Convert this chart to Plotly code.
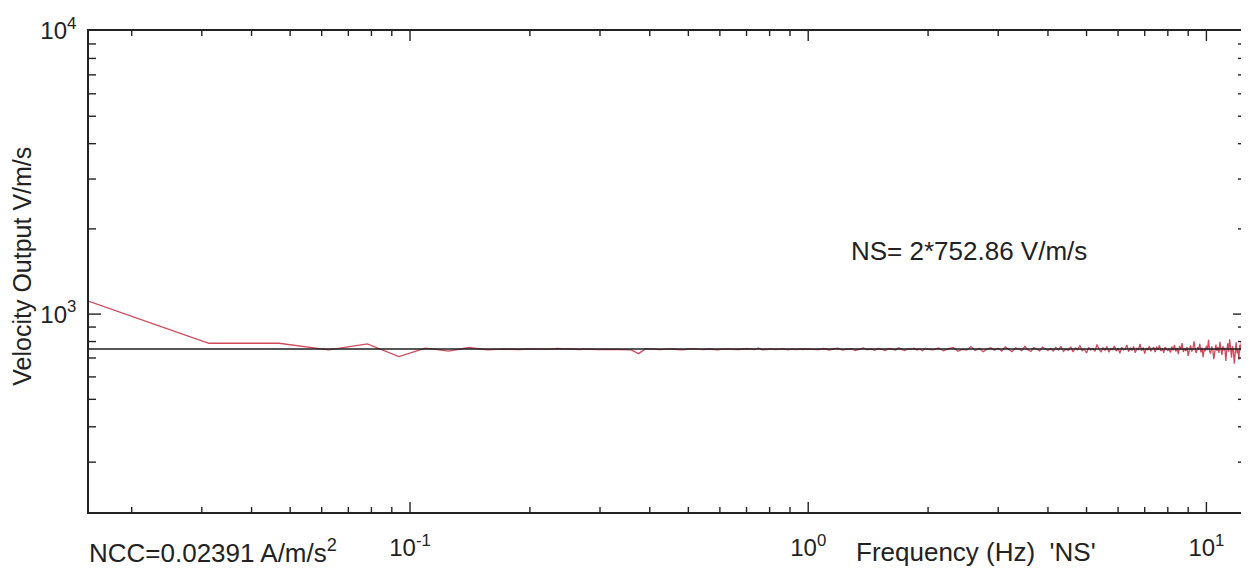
import math
import plotly.graph_objects as go

# ---------------- data ----------------
DF = 1 / 64  # frequency resolution, Hz
NS_SENSITIVITY = 752.86  # V/m/s (black reference line)

# FFT bin indices per band
bins_low = list(range(1, 21))
bins_mid = list(range(21, 65))
bins_1_2 = list(range(66, 129, 2))
bins_2_4 = list(range(132, 257, 4))
bins_4_8 = list(range(260, 513, 4))
bins_8_12 = list(range(516, 801, 4))

vel_low = [1109, 789, 789, 748, 785, 708, 758, 740, 762, 748,
           752, 750, 754, 751, 756, 753, 750, 752, 749, 751]
vel_mid = [750, 753, 748, 725, 755, 752, 749, 751, 754, 750, 748, 752, 755, 751, 749,
           753, 750, 748, 752, 754, 751, 749, 750, 753, 756, 752, 749, 759, 748, 750,
           753, 752, 749, 751, 754, 750, 748, 752, 751, 749, 753, 750, 752, 751]
vel_1_2 = [752, 749, 756, 747, 753, 758, 746, 751, 755, 744, 750, 759, 748, 754, 745, 757,
           750, 743, 756, 752, 747, 760, 749, 744, 755, 751, 758, 746, 753, 742, 757, 750]
vel_2_4 = [748, 760, 742, 755, 763, 739, 751, 746, 768, 744, 757, 736, 752, 761, 745, 758,
           740, 766, 749, 737, 759, 754, 743, 770, 747, 738, 762, 750, 741, 765, 753, 744]
vel_4_8 = [756, 741, 762, 747, 770, 738, 753, 744, 766, 735, 759, 748, 775, 742, 751, 729,
           763, 746, 757, 739, 781, 750, 736, 761, 745, 768, 733, 755, 749, 772, 740, 758,
           727, 764, 747, 753, 778, 737, 760, 744, 769, 731, 756, 750, 784, 742, 762, 725,
           758, 746, 771, 739, 755, 763, 734, 767, 748, 776, 741, 757, 730, 765, 752, 743]
vel_8_12 = [752, 731, 768, 744, 779, 738, 760, 722, 771, 749, 790, 735, 757, 741, 766, 712,
            748, 775, 737, 758, 801, 743, 729, 764, 751, 786, 733, 762, 704, 755, 740, 773,
            746, 812, 738, 726, 769, 750, 693, 758, 781, 742, 765, 729, 798, 753, 718, 771,
            744, 760, 683, 747, 789, 736, 815, 758, 701, 770, 742, 668, 761, 795, 727, 753,
            690, 779, 744, 806, 712, 766, 739, 821]

x_major_vals = [0.1, 1, 10]
x_major_text = ["10<sup>-1</sup>", "10<sup>0</sup>", "10<sup>1</sup>"]
y_major_vals = [1000, 10000]
y_major_text = ["10<sup>3</sup>", "10<sup>4</sup>"]
Y_MIN = 200
Y_MAX = 10000

ytitle = "Velocity Output V/m/s"
ns_text = "NS= 2*752.86 V/m/s"
ncc_text = "NCC=0.02391 A/m/s<sup>2</sup>"
xtitle = "Frequency (Hz)\u00a0\u00a0'NS'"

# ---------------- build ----------------
bins = bins_low + bins_mid + bins_1_2 + bins_2_4 + bins_4_8 + bins_8_12
vel = vel_low + vel_mid + vel_1_2 + vel_2_4 + vel_4_8 + vel_8_12
freq = [k * DF for k in bins]

x_minor = [m * 10 ** e for e in (-2, -1, 0, 1) for m in range(2, 10)]
y_minor = [m * 10 ** e for e in (2, 3) for m in range(2, 10)]

x_range = [math.log10(freq[0]), math.log10(freq[-1])]
y_range = [math.log10(Y_MIN), math.log10(Y_MAX)]

FONT = "Liberation Sans, Arial, sans-serif"
INK = "#222222"

# The page body has an 8 px default margin: figure is 8 px smaller and offset.
W, H = 1241, 563
M = dict(l=81, r=4, t=23, b=59)
PLOT_W = W - M["l"] - M["r"]
PLOT_H = H - M["t"] - M["b"]

fig = go.Figure()
fig.add_trace(go.Scatter(x=freq, y=vel, mode="lines",
                         line=dict(color="#d04a5c", width=1.3), hoverinfo="skip"))
fig.add_trace(go.Scatter(x=[freq[0], freq[-1]], y=[NS_SENSITIVITY, NS_SENSITIVITY],
                         mode="lines", line=dict(color="#1e1e1e", width=1.3), hoverinfo="skip"))

# inside tick marks on all four sides (minor + major), placed from the tick values
def xfrac(v):
    return (math.log10(v) - x_range[0]) / (x_range[1] - x_range[0])


def yfrac(v):
    return (math.log10(v) - y_range[0]) / (y_range[1] - y_range[0])


tick_line = dict(color=INK, width=1.4)
shapes = []
for vals, length in ((x_minor, 5), (x_major_vals, 10)):
    for v in vals:
        f = xfrac(v)
        if 0 < f < 1:
            d = length / PLOT_H
            shapes.append(dict(type="line", xref="paper", yref="paper",
                               x0=f, x1=f, y0=0, y1=d, line=tick_line, layer="above"))
            shapes.append(dict(type="line", xref="paper", yref="paper",
                               x0=f, x1=f, y0=1, y1=1 - d, line=tick_line, layer="above"))
for vals, length in ((y_minor, 7), (y_major_vals, 12)):
    for v in vals:
        f = yfrac(v)
        if 0 < f < 1:
            d = length / PLOT_W
            shapes.append(dict(type="line", xref="paper", yref="paper",
                               x0=0, x1=d, y0=f, y1=f, line=tick_line, layer="above"))
            shapes.append(dict(type="line", xref="paper", yref="paper",
                               x0=1, x1=1 - d, y0=f, y1=f, line=tick_line, layer="above"))

base = dict(type="log", showgrid=False, zeroline=False, automargin=False,
            tickmode="array", tickfont=dict(family=FONT, size=24, color=INK),
            showline=True, linecolor=INK, linewidth=1.6, mirror=True,
            ticks="outside", tickcolor="rgba(0,0,0,0)")

fig.update_layout(
    width=W, height=H,
    margin=dict(**M, autoexpand=False),
    paper_bgcolor="white", plot_bgcolor="white",
    showlegend=False,
    # invisible outside ticks only push the labels away from the axis lines
    xaxis=dict(**base, range=x_range, tickvals=x_major_vals, ticktext=x_major_text,
               ticklen=13),
    yaxis=dict(**base, range=y_range, tickvals=y_major_vals, ticktext=y_major_text,
               ticklen=6),
    shapes=shapes,
    annotations=[
        dict(text=ytitle, xref="paper", yref="paper", x=-0.058, y=0.512,
             xanchor="center", yanchor="middle", textangle=-90, showarrow=False,
             font=dict(family=FONT, size=25, color=INK)),
        dict(text=ns_text, xref="paper", yref="paper", x=0.6574, y=0.5426,
             xanchor="left", yanchor="middle", showarrow=False,
             font=dict(family=FONT, size=26, color=INK)),
        dict(text=ncc_text, xref="paper", yref="paper", x=-0.002, y=-0.083,
             xanchor="left", yanchor="middle", showarrow=False,
             font=dict(family=FONT, size=26, color=INK)),
        dict(text=xtitle, xref="paper", yref="paper", x=0.662, y=-0.083,
             xanchor="left", yanchor="middle", showarrow=False,
             font=dict(family=FONT, size=26, color=INK)),
    ],
)

fig.write_html("out.html")
